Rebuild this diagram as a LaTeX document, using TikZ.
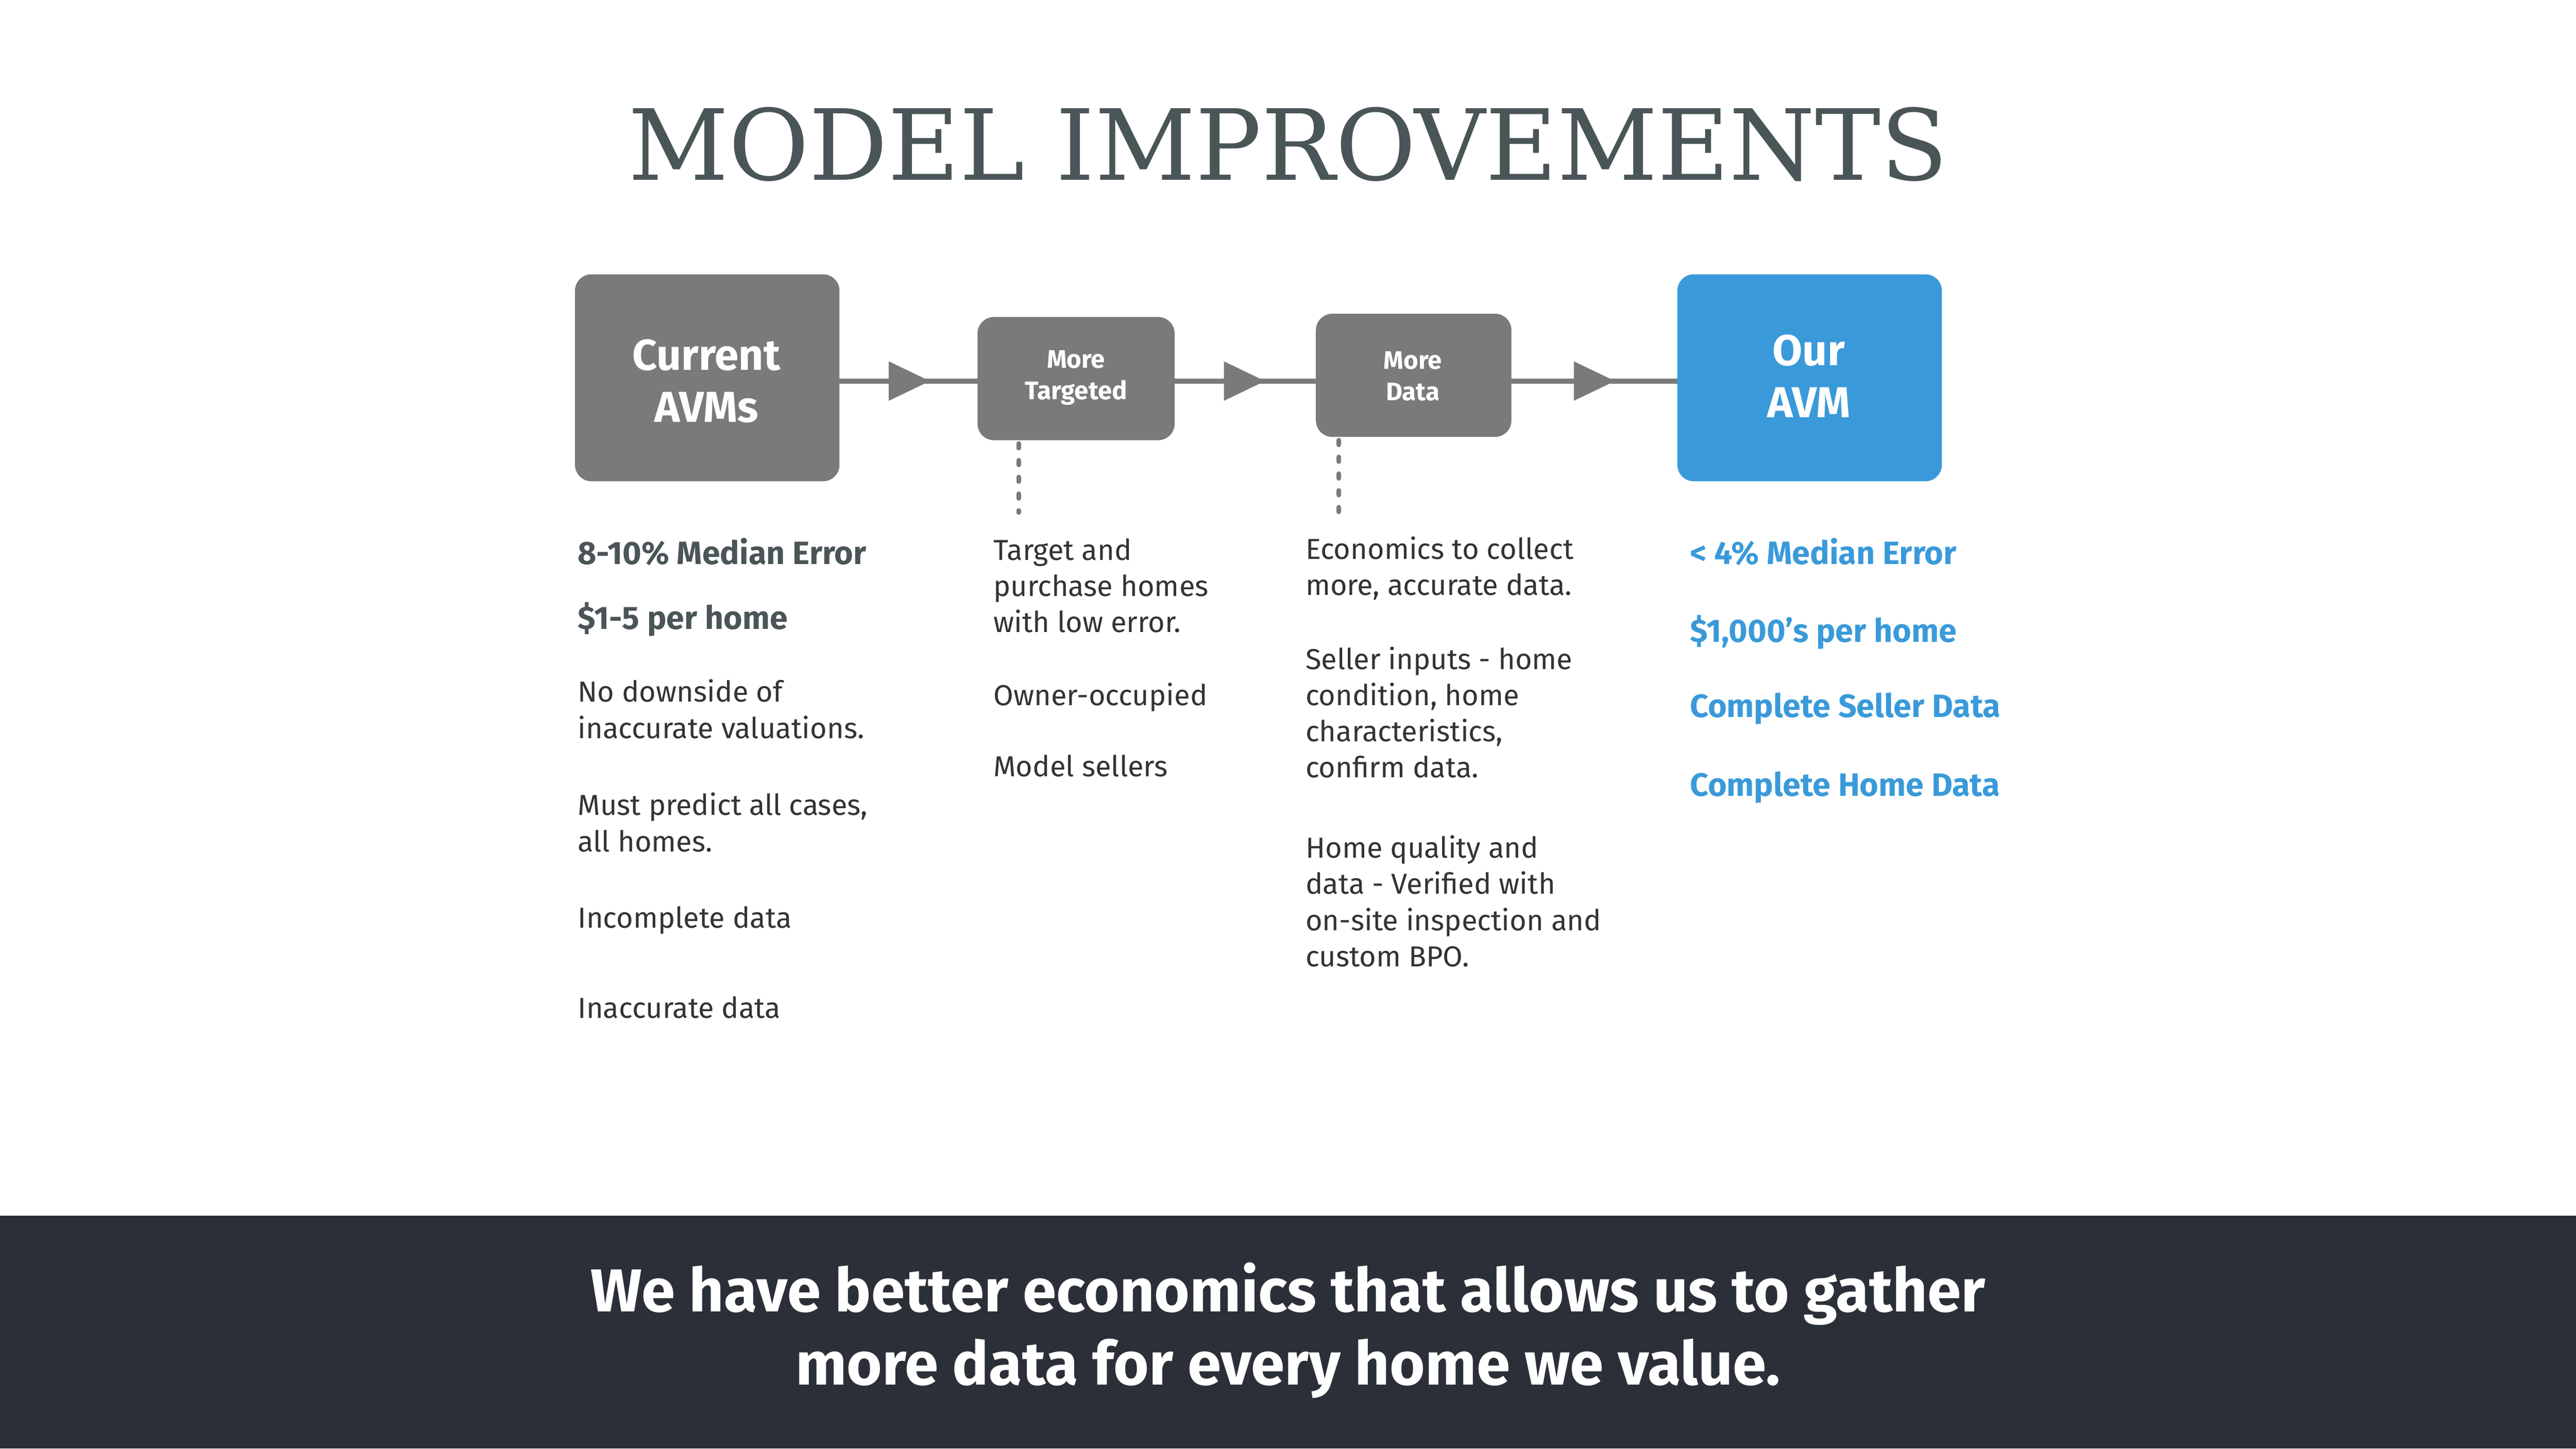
\documentclass[tikz,border=0pt]{standalone}
\usepackage{fontspec}
\setmainfont{Fira Sans}
\newfontfamily\titlefont{DejaVu Serif}
\definecolor{boxgray}{HTML}{7A7A7A}
\definecolor{avmblue}{HTML}{3A9AD9}
\definecolor{band}{HTML}{2B3038}
\definecolor{titlec}{HTML}{4A5557}
\definecolor{txt}{HTML}{333333}
\begin{document}
\begin{tikzpicture}[x=0.01cm,y=-0.01cm,
  box/.style={fill=boxgray,rounded corners=0.1cm,draw=none},
  btxt/.style={text=white,font=\bfseries\fontsize{7.5pt}{9pt}\selectfont,align=center},
  stxt/.style={text=white,font=\bfseries\fontsize{4.4pt}{5.5pt}\selectfont,align=center},
  body/.style={anchor=north west,inner sep=0,text=txt,align=left,font=\fontsize{5pt}{6.25pt}\selectfont},
  head/.style={anchor=north west,inner sep=0,text=titlec,font=\bfseries\fontsize{5.6pt}{6.5pt}\selectfont},
  bhead/.style={anchor=north west,inner sep=0,text=avmblue,font=\bfseries\fontsize{5.6pt}{6.5pt}\selectfont},
  conn/.style={draw=boxgray,line width=0.9pt},
  tri/.style={fill=boxgray,draw=none},
  dots/.style={draw=boxgray,line width=0.8pt,dash pattern=on 0.8pt off 2.1pt,line cap=round}]
\useasboundingbox (0,0) rectangle (1568,882);
\fill[band] (0,740) rectangle (1568,882);
\node[text=titlec,font=\titlefont\fontsize{17pt}{20pt}\selectfont] (title) at (784,88) {MODEL IMPROVEMENTS};
% connectors
\coordinate (l0) at (511,232); \coordinate (l1) at (1021,232);
\draw[conn] (l0) -- (l1);
\foreach \x in {541,745,958}{\fill[tri] (\x,220) -- (\x+25,232) -- (\x,244) -- cycle;}
% boxes
\path[box] (350,167) rectangle (511,293);
\node[btxt] (cur) at (430,232) {Current\\AVMs};
\path[box] (595,193) rectangle (715,268);
\node[stxt] (tg) at (655,230) {More\\Targeted};
\path[box] (801,191) rectangle (920,266);
\node[stxt] (md) at (860,229) {More\\Data};
\path[box,fill=avmblue] (1021,167) rectangle (1182,293);
\node[btxt] (our) at (1101,229) {Our\\AVM};
\coordinate (d1a) at (620,270); \coordinate (d1b) at (620,312);
\coordinate (d2a) at (815,268); \coordinate (d2b) at (815,312);
\draw[dots] (d1a) -- (d1b);
\draw[dots] (d2a) -- (d2b);
% column 1
\node[head] (c1a) at (351,327) {8-10\% Median Error};
\node[head] (c1b) at (351,366) {\$1-5 per home};
\node[body] (c1c) at (351,413) {No downside of\\inaccurate valuations.};
\node[body] (c1d) at (351,482) {Must predict all cases,\\all homes.};
\node[body] (c1e) at (351,551) {Incomplete data};
\node[body] (c1f) at (351,606) {Inaccurate data};
% column 2
\node[body] (c2a) at (604,327) {Target and\\purchase homes\\with low error.};
\node[body] (c2b) at (604,415) {Owner-occupied};
\node[body] (c2c) at (604,459) {Model sellers};
% column 3
\node[body] (c3a) at (794,326) {Economics to collect\\more, accurate data.};
\node[body] (c3b) at (794,393) {Seller inputs - home\\condition, home\\characteristics,\\confirm data.};
\node[body] (c3c) at (794,508) {Home quality and\\data - Verified with\\on-site inspection and\\custom BPO.};
% column 4
\node[bhead] (c4a) at (1028,327) {< 4\% Median Error};
\node[bhead] (c4b) at (1028,374) {\$1,000’s per home};
\node[bhead] (c4c) at (1028,421) {Complete Seller Data};
\node[bhead] (c4d) at (1028,469) {Complete Home Data};
% bottom
\node[text=white,align=center,font=\bfseries\fontsize{10.5pt}{12.6pt}\selectfont] (bot) at (784,810) {We have better economics that allows us to gather\\more data for every home we value.};
\end{tikzpicture}
\end{document}
